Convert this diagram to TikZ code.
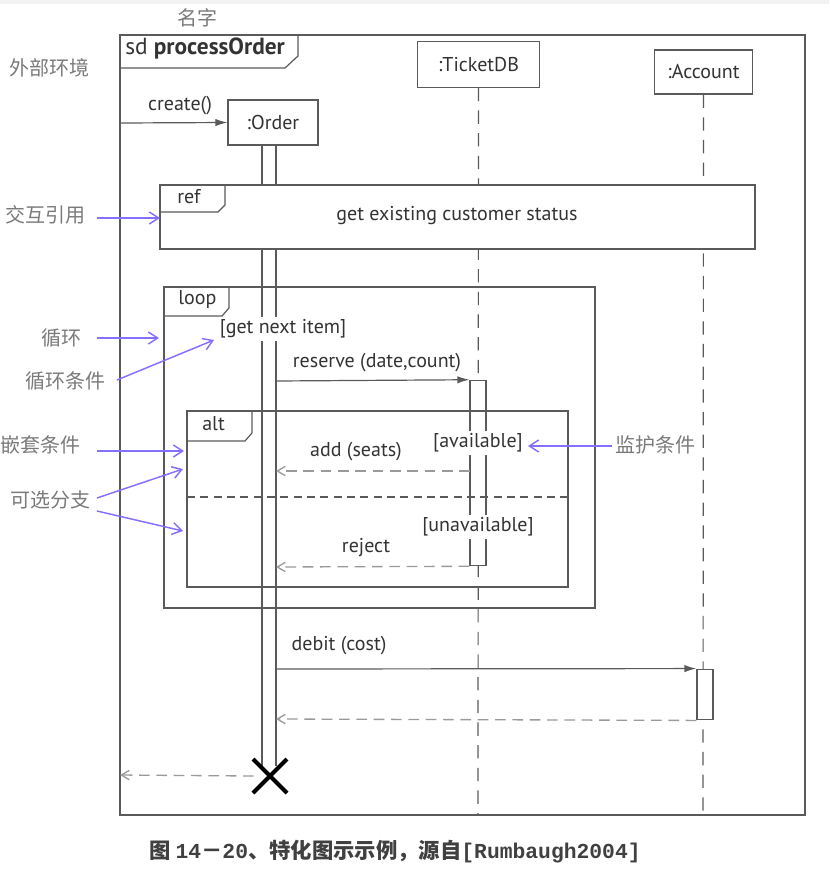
\documentclass[tikz,border=0pt]{standalone}
\usepackage{fontspec}
\setmainfont{PT Sans}
\newfontfamily\cjk{Noto Sans CJK SC}
\newfontfamily\mono{Liberation Mono}
\usetikzlibrary{arrows.meta}
\definecolor{ln}{HTML}{5A5A5A}
\definecolor{tx}{HTML}{333333}
\definecolor{dsh}{HTML}{9A9A9A}
\definecolor{note}{HTML}{7A7A7A}
\definecolor{blu}{HTML}{8470FF}
\tikzset{
  frame/.style={draw=ln, line width=0.9pt},
  head/.style={draw=ln, line width=0.9pt, fill=white, inner sep=0pt, font=\fontsize{15}{17}\selectfont, text=tx},
  lifeline/.style={draw=ln, line width=0.9pt, dash pattern=on 10pt off 7pt},
  msg/.style={draw=ln, line width=0.9pt, -{Latex[length=9pt,width=5.5pt]}},
  ret/.style={draw=dsh, line width=1pt, dash pattern=on 8pt off 5pt, -{Straight Barb[length=6pt,width=7pt]}},
  lab/.style={font=\fontsize{15}{17}\selectfont, text=tx, inner sep=1pt},
  wlab/.style={lab, fill=white},
  tab/.style={font=\fontsize{15}{17}\selectfont, text=tx, anchor=west, inner sep=0pt},
  ann/.style={font=\cjk\fontsize{15}{17}\selectfont, text=note, inner sep=0pt},
  annarr/.style={draw=blu, line width=1.1pt, -{Straight Barb[length=7pt,width=9pt]}},
  actbox/.style={draw=ln, line width=0.9pt, fill=white}
}
\begin{document}
\begin{tikzpicture}[x=0.75pt,y=-0.75pt]
\useasboundingbox (0,0) rectangle (829,875);
\fill[black!5] (0,0) rectangle (829,4);

% lifeline heads
\node[head, minimum width=67.5pt, minimum height=33.75pt] (order) at (273,122.5) {:Order};
\node[head, minimum width=92pt, minimum height=34pt] (tdb) at (478.5,64.5) {:TicketDB};
\node[head, minimum width=74pt, minimum height=33pt] (acc) at (703.5,72) {:Account};

% dashed lifelines
\coordinate (tdbend) at (478,815);
\coordinate (accend) at (703,815);
\draw[lifeline] (tdb.south) -- (tdbend);
\draw[lifeline] (acc.south) -- (accend);

% Order activation (two lines)
\coordinate (oa1) at (262,145);
\coordinate (oa2) at (276,145);
\coordinate (ob1) at (262,766);
\coordinate (ob2) at (276,766);
\draw[frame] (oa1) -- (ob1);
\draw[frame] (oa2) -- (ob2);

% main frame
\draw[frame] (120,35) rectangle (805,815);
\draw[frame] (120,68) -- (285,68) -- (298,56) -- (298,35);
\node[tab, font=\fontsize{17.5}{19}\selectfont] (sd) at (125,48) {sd \textbf{processOrder}};

% create
\coordinate (envcreate) at (120,123);
\draw[msg] (envcreate) -- (order.west);
\node[lab] (createlab) at (180,106) {create()};

% ref frame
\draw[frame, fill=white] (160,185) rectangle (755,249);
\draw[frame] (160,212) -- (218,212) -- (225,205) -- (225,185);
\node[tab] (reftab) at (177,197) {ref};
\node[lab] (refname) at (457,216) {get existing customer status};

% loop frame
\draw[frame] (164,287) rectangle (595,608);
\draw[frame] (164,316) -- (222,316) -- (229,308) -- (229,287);
\node[tab] (looptab) at (178,299) {loop};
\node[wlab, inner sep=2pt] (guard1) at (283,329) {[get next item]};

% reserve
\node[actbox, minimum width=12pt, minimum height=139pt, inner sep=0pt] (tact) at (478,473) {};
\coordinate (ores) at (276,381);
\draw[msg] (ores) -- (tact.north west);
\node[lab] (reslab) at (377,363) {reserve (date,count)};

% alt frame
\draw[frame] (187,411) rectangle (568,587);
\draw[frame] (187,441) -- (245,441) -- (252,433) -- (252,411);
\node[tab] (alttab) at (202,424) {alt};
\draw[draw=ln, line width=0.9pt, dash pattern=on 6pt off 4pt] (187,497) -- (568,497);
\node[wlab, inner sep=2pt] (g2) at (478,443) {[available]};
\node[wlab, inner sep=2pt] (g3) at (478,527) {[unavailable]};

% add (seats)
\coordinate (oadd) at (276,471);
\coordinate (tadd) at (470,471);
\draw[ret] (tadd) -- (oadd);
\node[lab] (addlab) at (356,452) {add (seats)};

% reject
\coordinate (orej) at (276,567);
\draw[ret] (tact.south west) -- (orej);
\node[lab] (rejlab) at (366,548) {reject};

% debit
\node[actbox, minimum width=12pt, minimum height=38pt, inner sep=0pt] (aact) at (705,694.5) {};
\coordinate (odeb) at (276,669);
\draw[msg] (odeb) -- (aact.north west);
\node[lab] (deblab) at (339,646) {debit (cost)};
\coordinate (odebr) at (276,719);
\draw[ret] (aact.south west) -- (odebr);

% destruction
\node[inner sep=0pt, minimum size=24pt] (xx) at (270,776) {};
\draw[black, line width=3pt] (253,759) -- (287,793);
\draw[black, line width=3pt] (287,759) -- (253,793);
\coordinate (envret) at (120,775);
\draw[ret] (xx.west) -- (envret);

% annotations
\node[ann] (n0) at (197,18) {名字};
\node[ann] (n1) at (49,68) {外部环境};
\node[ann] (n2) at (46,215) {交互引用};
\coordinate (t2) at (160,218);
\draw[annarr] (97,218) -- (t2);
\node[ann] (n3) at (61,338) {循环};
\coordinate (t3) at (159,338);
\draw[annarr] (97,338) -- (t3);
\node[ann] (n4) at (65,381) {循环条件};
\coordinate (t4) at (214,340);
\draw[annarr] (117,380) -- (t4);
\node[ann] (n5) at (40,445) {嵌套条件};
\coordinate (t5) at (184,451);
\draw[annarr] (97,451) -- (t5);
\node[ann] (n6) at (50,500) {可选分支};
\coordinate (t6a) at (183,469);
\coordinate (t6b) at (183,531);
\draw[annarr] (97,498) -- (t6a);
\draw[annarr] (97,511) -- (t6b);
\node[ann] (n7) at (655,445) {监护条件};
\coordinate (t7) at (528,446);
\draw[annarr] (612,446) -- (t7);

% caption
\node[inner sep=0pt, text=black!75] (cap) at (395,852) {\cjk\fontsize{16}{18}\selectfont\bfseries 图 {\mono\bfseries\fontsize{16}{18}\selectfont 14}－{\mono\bfseries\fontsize{16}{18}\selectfont 20}、特化图示示例，源自{\mono\bfseries\fontsize{16}{18}\selectfont [Rumbaugh2004]}};
\end{tikzpicture}
\end{document}
